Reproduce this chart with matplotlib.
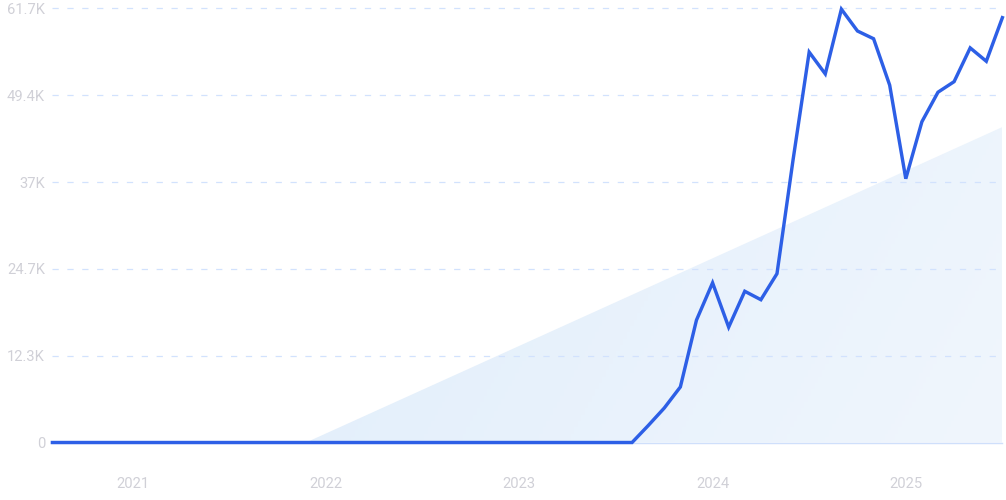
import numpy as np
import matplotlib
matplotlib.use("Agg")
import matplotlib.pyplot as plt
from matplotlib.colors import LinearSegmentedColormap
from matplotlib.patches import Polygon

# Month index 0 = Aug 2020, 59 = Jul 2025
months = list(range(60))
values = [0] * 37 + [
    2400, 4900, 7900, 17400, 22700, 16400, 21500, 20300, 24000,
    40200, 55500, 52400, 61600, 58500, 57400, 50800, 37500,
    45600, 49800, 51300, 56100, 54200, 60400,
]
trend_x = [15.75, 59]
trend_y = [0, 44850]
year_ticks = [5, 17, 29, 41, 53]
year_labels = ["2021", "2022", "2023", "2024", "2025"]
y_ticks = [0, 12340, 24680, 37020, 49360, 61700]
y_labels = ["0", "12.3K", "24.7K", "37K", "49.4K", "61.7K"]

W, H = 1006, 500
fig = plt.figure(figsize=(W / 100, H / 100), dpi=100, facecolor="white")
left, right, top, bottom = 52.4, 1002.4, 8.5, 442.5
ax = fig.add_axes([left / W, 1 - bottom / H, (right - left) / W, (bottom - top) / H])
for s in ax.spines.values():
    s.set_visible(False)

# Trend area with soft diagonal gradient
cmap = LinearSegmentedColormap.from_list("g", ["#e1eefb", "#f0f6fd"])
gx, gy = np.meshgrid(np.linspace(0, 1, 200), np.linspace(1, 0, 100))
grad = gx * 0.8 + (1 - gy) * 0.2
im = ax.imshow(grad, extent=[trend_x[0], trend_x[1], trend_y[0], trend_y[1]],
               origin="upper", cmap=cmap, aspect="auto", zorder=1)
poly = Polygon([(trend_x[0], trend_y[0]), (trend_x[1], trend_y[1]), (trend_x[1], trend_y[0])],
               closed=True, transform=ax.transData, fc="none", ec="none")
ax.add_patch(poly)
im.set_clip_path(poly)
ax.set_xlim(0, 59)
ax.set_ylim(0, 61700)

# Grid lines
for v in y_ticks[1:]:
    ax.plot([0, 59], [v, v], color="#d2e2fd", lw=0.9, ls=(0, (5, 6.9)), zorder=2, clip_on=False)
ax.plot([0, 59], [0, 0], color="#cfdffb", lw=1.0, zorder=2, clip_on=False)

# Series
ax.plot(months, values, color="#2d5fe6", lw=2.45, solid_joinstyle="miter", zorder=3, clip_on=False)

ax.set_xticks(year_ticks, year_labels)
ax.set_yticks(y_ticks, y_labels)
ax.tick_params(axis="both", length=0, labelcolor="#d0d0d7", labelsize=10.6)
ax.tick_params(axis="y", pad=5.2)
ax.tick_params(axis="x", pad=25)
for t in ax.get_xticklabels() + ax.get_yticklabels():
    t.set_fontfamily(["Roboto", "DejaVu Sans"])

fig.savefig("out.png", dpi=100, facecolor="white")
